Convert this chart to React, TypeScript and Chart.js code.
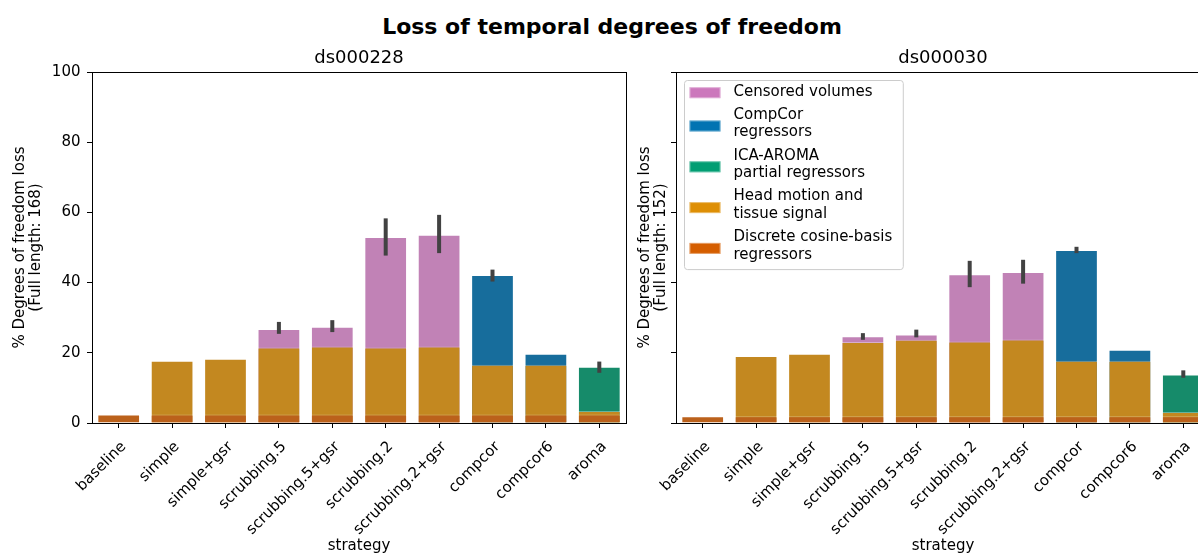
import React, { useEffect, useRef } from 'react';
import { Chart, registerables } from 'chart.js';

Chart.register(...registerables);

const FONT = '"DejaVu Sans", sans-serif';

const strategies = ['baseline', 'simple', 'simple+gsr', 'scrubbing.5', 'scrubbing.5+gsr', 'scrubbing.2', 'scrubbing.2+gsr', 'compcor', 'compcor6', 'aroma'];
const yTicks = [0, 20, 40, 60, 80, 100];

// ds000228 — cumulative bar tops (% of degrees of freedom lost)
const dct228 = [2.4, 2.4, 2.4, 2.4, 2.4, 2.4, 2.4, 2.4, 2.4, 2.4];
const motion228 = [null, 17.7, 18.3, 21.5, 21.8, 21.5, 21.8, 16.6, 16.6, 3.4];
const censored228 = [null, null, null, 26.8, 27.4, 53.0, 53.6, null, null, null];
const compcor228 = [null, null, null, null, null, null, null, 42.2, 19.7, null];
const aroma228 = [null, null, null, null, null, null, null, null, null, 16.0];
const errLow228 = [null, null, null, 25.4, 25.9, 47.7, 48.4, 40.3, null, 14.3];
const errHigh228 = [null, null, null, 28.8, 29.3, 58.3, 59.3, 43.7, null, 17.5];

// ds000030
const dct030 = [1.9, 1.9, 1.9, 1.9, 1.9, 1.9, 1.9, 1.9, 1.9, 1.9];
const motion030 = [null, 19.1, 19.7, 23.1, 23.7, 23.2, 23.8, 17.7, 17.7, 3.1];
const censored030 = [null, null, null, 24.7, 25.2, 42.4, 43.0, null, null, null];
const compcor030 = [null, null, null, null, null, null, null, 49.3, 20.9, null];
const aroma030 = [null, null, null, null, null, null, null, null, null, 13.8];
const errLow030 = [null, null, null, 23.7, 24.4, 38.7, 39.7, 48.4, null, 12.9];
const errHigh030 = [null, null, null, 25.6, 26.6, 46.2, 46.5, 50.2, null, 15.0];

const legendLabels = [
  ['Censored volumes'],
  ['CompCor', 'regressors'],
  ['ICA-AROMA', 'partial regressors'],
  ['Head motion and', 'tissue signal'],
  ['Discrete cosine-basis', 'regressors'],
];
const legendColors = ['#CC78BC', '#0173B2', '#029E73', '#DE8F05', '#D55E00'];

const BAR_CENSORED = '#C182B6';
const BAR_COMPCOR = '#176D9C';
const BAR_AROMA = '#168B6A';
const BAR_MOTION = '#C38820';
const BAR_DCT = '#BB611B';

function drawLegend(chart: any) {
  const { ctx, chartArea: a } = chart;
  ctx.save();
  ctx.font = `15px ${FONT}`;
  const left = Math.round(a.left + 8) + 0.5;
  const top = Math.round(a.top + 8) + 0.5;
  const patchX = left + 5;
  const patchW = 31;
  const textX = left + 49;
  const lineH = 17.5;
  const gap = 5.8;
  let maxW = 0;
  legendLabels.forEach((lines) => lines.forEach((l) => { maxW = Math.max(maxW, ctx.measureText(l).width); }));
  const width = textX - left + maxW + 11;
  let nLines = 0;
  legendLabels.forEach((l) => { nLines += l.length; });
  const height = 11.2 + (nLines - 1) * lineH + (legendLabels.length - 1) * gap + 14.7;
  const r = 3;
  ctx.beginPath();
  ctx.moveTo(left + r, top);
  ctx.lineTo(left + width - r, top);
  ctx.arcTo(left + width, top, left + width, top + r, r);
  ctx.lineTo(left + width, top + height - r);
  ctx.arcTo(left + width, top + height, left + width - r, top + height, r);
  ctx.lineTo(left + r, top + height);
  ctx.arcTo(left, top + height, left, top + height - r, r);
  ctx.lineTo(left, top + r);
  ctx.arcTo(left, top, left + r, top, r);
  ctx.closePath();
  ctx.fillStyle = 'rgba(255,255,255,0.8)';
  ctx.fill();
  ctx.strokeStyle = '#cccccc';
  ctx.lineWidth = 1;
  ctx.stroke();

  let y = top + 11.2;
  ctx.textBaseline = 'middle';
  ctx.textAlign = 'left';
  legendLabels.forEach((lines, i) => {
    const n = lines.length;
    const pc = n === 1 ? y + 1 : y + (n - 1) * lineH / 2 + 2.25;
    ctx.fillStyle = legendColors[i];
    ctx.fillRect(patchX, pc - 5.5, patchW, 11);
    ctx.strokeStyle = 'rgba(255,255,255,0.4)';
    ctx.strokeRect(patchX + 0.5, pc - 5, patchW - 1, 10);
    ctx.fillStyle = '#000';
    lines.forEach((l, j) => ctx.fillText(l, textX, y + j * lineH));
    y += n * lineH + gap;
  });
  ctx.restore();
}

function buildConfig(o: any) {
  const ds = (label: string, data: any[], color: string) => ({
    label,
    data,
    backgroundColor: color,
    borderColor: 'rgba(255,255,255,0.35)',
    borderWidth: 1,
    grouped: false,
    categoryPercentage: 0.8,
    barPercentage: 1,
  });
  const gridOpts = { display: true, drawOnChartArea: false, drawTicks: true, tickLength: 5, color: '#000', lineWidth: 1, offset: false };
  const plugin = {
    id: 'extras',
    afterDatasetsDraw(chart: any) {
      const { ctx, chartArea: a, scales } = chart;
      ctx.save();
      ctx.strokeStyle = '#424242';
      ctx.lineWidth = 4;
      ctx.lineCap = 'butt';
      strategies.forEach((_, i) => {
        const lo = o.errLow[i];
        const hi = o.errHigh[i];
        if (lo == null || hi == null) return;
        const x = scales.x.getPixelForValue(i);
        ctx.beginPath();
        ctx.moveTo(x, scales.y.getPixelForValue(lo));
        ctx.lineTo(x, scales.y.getPixelForValue(hi));
        ctx.stroke();
      });
      ctx.strokeStyle = '#000';
      ctx.lineWidth = 1;
      ctx.strokeRect(Math.round(a.left) + 0.5, Math.round(a.top) + 0.5, Math.round(a.right - a.left), Math.round(a.bottom - a.top));
      ctx.restore();
    },
    afterDraw(chart: any) {
      const { ctx, chartArea: a } = chart;
      ctx.save();
      ctx.font = `18px ${FONT}`;
      ctx.fillStyle = '#000';
      ctx.textAlign = 'center';
      ctx.textBaseline = 'alphabetic';
      ctx.fillText(o.title, (a.left + a.right) / 2, a.top - 8.7);
      ctx.restore();
      if (o.showLegend) drawLegend(chart);
    },
  };
  return {
    type: 'bar',
    data: {
      labels: strategies,
      datasets: [
        ds('Discrete cosine-basis regressors', o.dct, BAR_DCT),
        ds('Head motion and tissue signal', o.motion, BAR_MOTION),
        ds('Censored volumes', o.censored, BAR_CENSORED),
        ds('CompCor regressors', o.compcor, BAR_COMPCOR),
        ds('ICA-AROMA partial regressors', o.aroma, BAR_AROMA),
      ],
    },
    options: {
      animation: false,
      responsive: false,
      devicePixelRatio: 1,
      layout: { padding: { top: 32, right: o.padRight, left: 0, bottom: 0 } },
      plugins: { legend: { display: false }, title: { display: false }, tooltip: { enabled: false } },
      scales: {
        x: {
          offset: true,
          border: { display: false },
          grid: gridOpts,
          ticks: { autoSkip: false, maxRotation: 45, minRotation: 45, padding: 10, labelOffset: 5, color: '#000', font: { family: FONT, size: 15 } },
          title: { display: true, text: 'strategy', color: '#000', font: { family: FONT, size: 15, lineHeight: 1.1 }, padding: { top: 0, bottom: 15.75 } },
          afterFit: (s: any) => { s.height = 147; },
        },
        y: {
          min: 0,
          max: 100,
          border: { display: false },
          grid: gridOpts,
          afterBuildTicks: (s: any) => { s.ticks = yTicks.map((v) => ({ value: v })); },
          ticks: {
            padding: 6.5,
            color: '#000',
            font: { family: FONT, size: 15 },
            callback: o.showYLabels ? (v: any) => String(v) : () => '',
          },
          title: { display: true, text: o.yTitle, color: '#000', font: { family: FONT, size: 15, lineHeight: 1.1 }, padding: { top: o.yTitlePad, bottom: 0 } },
          afterFit: (s: any) => { s.width = o.yAxisWidth; },
        },
      },
    },
    plugins: [plugin],
  } as any;
}

export default function App() {
  const leftRef = useRef<HTMLCanvasElement>(null);
  const rightRef = useRef<HTMLCanvasElement>(null);
  useEffect(() => {
    const c1 = new Chart(leftRef.current as HTMLCanvasElement, buildConfig({
      title: 'ds000228',
      yTitle: ['% Degrees of freedom loss', '(Full length: 168)'],
      dct: dct228, motion: motion228, censored: censored228, compcor: compcor228, aroma: aroma228,
      errLow: errLow228, errHigh: errHigh228,
      showYLabels: true, yAxisWidth: 92, padRight: 4, yTitlePad: 11.75, showLegend: false,
    }));
    const c2 = new Chart(rightRef.current as HTMLCanvasElement, buildConfig({
      title: 'ds000030',
      yTitle: ['% Degrees of freedom loss', '(Full length: 152)'],
      dct: dct030, motion: motion030, censored: censored030, compcor: compcor030, aroma: aroma030,
      errLow: errLow030, errHigh: errHigh030,
      showYLabels: false, yAxisWidth: 56, padRight: 14, yTitlePad: 16.75, showLegend: true,
    }));
    return () => { c1.destroy(); c2.destroy(); };
  }, []);
  return (
    <div style={{ position: 'absolute', left: 0, top: 0, width: 1198, height: 553, overflow: 'hidden', background: '#fff' }}>
      <div style={{ position: 'absolute', left: 0, top: 15.7, width: 1224, textAlign: 'center', fontFamily: FONT, fontWeight: 'bold', fontSize: 22, lineHeight: '22px', color: '#000', whiteSpace: 'nowrap' }}>
        Loss of temporal degrees of freedom
      </div>
      <canvas ref={leftRef} width={630} height={530} style={{ position: 'absolute', left: 0, top: 40, width: 630, height: 530 }} />
      <canvas ref={rightRef} width={604} height={530} style={{ position: 'absolute', left: 620, top: 40, width: 604, height: 530 }} />
    </div>
  );
}
